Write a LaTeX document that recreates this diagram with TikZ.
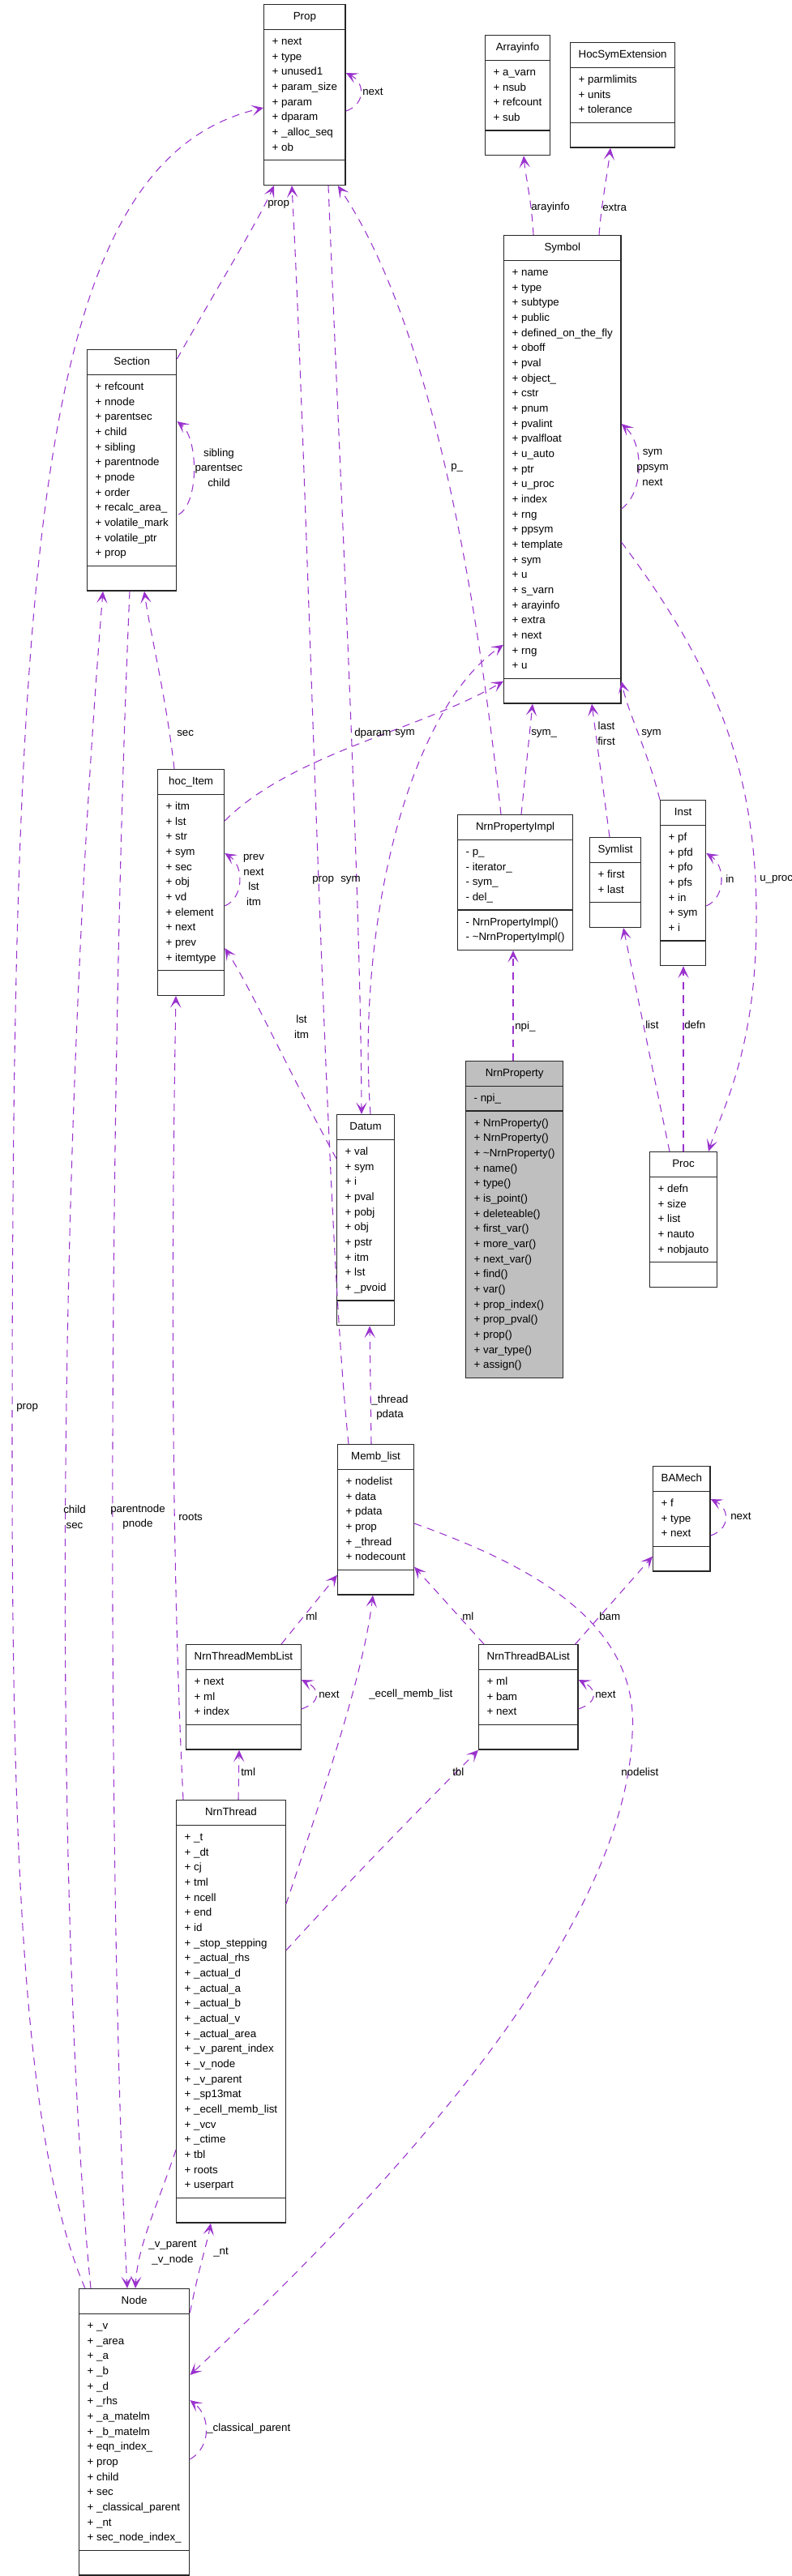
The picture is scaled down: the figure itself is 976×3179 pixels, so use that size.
\documentclass[tikz,border=0pt]{standalone}
\usepackage{fontspec}
\setmainfont{Liberation Sans}
\usetikzlibrary{shapes.multipart,arrows.meta,calc}

\definecolor{edgecol}{RGB}{154,50,205}

\tikzset{
  cls/.style={rectangle split, rectangle split parts=3, draw=black!85, line width=1pt, fill=white,
    anchor=north west, align=left, rectangle split part align={center,left,left},
    inner xsep=7.5pt, inner ysep=4pt, font=\fontsize{10}{14}\selectfont},
  focus/.style={cls, fill=black!25},
  use/.style={draw=edgecol, dash pattern=on 7pt off 5.5pt, line width=0.8pt,
    -{Stealth[length=11pt,width=10pt,inset=5.5pt]}},
  lbl/.style={font=\fontsize{10}{14}\selectfont, inner sep=0pt, align=center}
}

\begin{document}
\begin{tikzpicture}[x=0.75pt,y=-0.75pt]
\useasboundingbox (0,0) rectangle (976,3179);

% classes
\node[cls] (prop) at (325,5) {\strut Prop
  \nodepart{second}\strut + next\\+ type\\+ unused1\\+ param\_size\\+ param\\+ dparam\\+ \_alloc\_seq\\+ ob\strut
  \nodepart{third}\strut};
\node[cls] (ainfo) at (598,43) {\strut Arrayinfo
  \nodepart{second}\strut + a\_varn\\+ nsub\\+ refcount\\+ sub\strut
  \nodepart{third}\strut};
\node[cls] (hse) at (703,52) {\strut HocSymExtension
  \nodepart{second}\strut + parmlimits\\+ units\\+ tolerance\strut
  \nodepart{third}\strut};
\node[cls] (sym) at (621,290) {\strut Symbol
  \nodepart{second}\strut + name\\+ type\\+ subtype\\+ public\\+ defined\_on\_the\_fly\\+ oboff\\+ pval\\+ object\_\\+ cstr\\+ pnum\\+ pvalint\\+ pvalfloat\\+ u\_auto\\+ ptr\\+ u\_proc\\+ index\\+ rng\\+ ppsym\\+ template\\+ sym\\+ u\\+ s\_varn\\+ arayinfo\\+ extra\\+ next\\+ rng\\+ u\strut
  \nodepart{third}\strut};
\node[cls] (sec) at (107,431) {\strut Section
  \nodepart{second}\strut + refcount\\+ nnode\\+ parentsec\\+ child\\+ sibling\\+ parentnode\\+ pnode\\+ order\\+ recalc\_area\_\\+ volatile\_mark\\+ volatile\_ptr\\+ prop\strut
  \nodepart{third}\strut};
\node[cls] (item) at (194,949) {\strut hoc\_Item
  \nodepart{second}\strut + itm\\+ lst\\+ str\\+ sym\\+ sec\\+ obj\\+ vd\\+ element\\+ next\\+ prev\\+ itemtype\strut
  \nodepart{third}\strut};
\node[cls] (npimpl) at (564,1005) {\strut NrnPropertyImpl
  \nodepart{second}\strut - p\_\\- iterator\_\\- sym\_\\- del\_\strut
  \nodepart{third}\strut - NrnPropertyImpl()\\- \textasciitilde NrnPropertyImpl()\strut};
\node[cls] (slist) at (727,1033) {\strut Symlist
  \nodepart{second}\strut + first\\+ last\strut
  \nodepart{third}\strut};
\node[cls] (inst) at (814,987) {\strut Inst
  \nodepart{second}\strut + pf\\+ pfd\\+ pfo\\+ pfs\\+ in\\+ sym\\+ i\strut
  \nodepart{third}\strut};
\node[focus] (nprop) at (574,1309) {\strut NrnProperty
  \nodepart{second}\strut - npi\_\strut
  \nodepart{third}\strut + NrnProperty()\\+ NrnProperty()\\+ \textasciitilde NrnProperty()\\+ name()\\+ type()\\+ is\_point()\\+ deleteable()\\+ first\_var()\\+ more\_var()\\+ next\_var()\\+ find()\\+ var()\\+ prop\_index()\\+ prop\_pval()\\+ prop()\\+ var\_type()\\+ assign()\strut};
\node[cls] (datum) at (415,1375) {\strut Datum
  \nodepart{second}\strut + val\\+ sym\\+ i\\+ pval\\+ pobj\\+ obj\\+ pstr\\+ itm\\+ lst\\+ \_pvoid\strut
  \nodepart{third}\strut};
\node[cls] (proc) at (801,1421) {\strut Proc
  \nodepart{second}\strut + defn\\+ size\\+ list\\+ nauto\\+ nobjauto\strut
  \nodepart{third}\strut};
\node[cls] (mlist) at (416,1782) {\strut Memb\_list
  \nodepart{second}\strut + nodelist\\+ data\\+ pdata\\+ prop\\+ \_thread\\+ nodecount\strut
  \nodepart{third}\strut};
\node[cls] (bam) at (805,1809) {\strut BAMech
  \nodepart{second}\strut + f\\+ type\\+ next\strut
  \nodepart{third}\strut};
\node[cls] (tml) at (229,2029) {\strut NrnThreadMembList
  \nodepart{second}\strut + next\\+ ml\\+ index\strut
  \nodepart{third}\strut};
\node[cls] (tbl) at (590,2029) {\strut NrnThreadBAList
  \nodepart{second}\strut + ml\\+ bam\\+ next\strut
  \nodepart{third}\strut};
\node[cls] (nthr) at (217,2221) {\strut NrnThread
  \nodepart{second}\strut + \_t\\+ \_dt\\+ cj\\+ tml\\+ ncell\\+ end\\+ id\\+ \_stop\_stepping\\+ \_actual\_rhs\\+ \_actual\_d\\+ \_actual\_a\\+ \_actual\_b\\+ \_actual\_v\\+ \_actual\_area\\+ \_v\_parent\_index\\+ \_v\_node\\+ \_v\_parent\\+ \_sp13mat\\+ \_ecell\_memb\_list\\+ \_vcv\\+ \_ctime\\+ tbl\\+ roots\\+ userpart\strut
  \nodepart{third}\strut};
\node[cls] (node) at (97,2824) {\strut Node
  \nodepart{second}\strut + \_v\\+ \_area\\+ \_a\\+ \_b\\+ \_d\\+ \_rhs\\+ \_a\_matelm\\+ \_b\_matelm\\+ eqn\_index\_\\+ prop\\+ child\\+ sec\\+ \_classical\_parent\\+ \_nt\\+ sec\_node\_index\_\strut
  \nodepart{third}\strut};

% self loops
\draw[use] ($(prop.north east)+(0,132)$) .. controls +(24,-8) and +(24,12) .. ($(prop.north east)+(0,85)$);
\draw[use] ($(sec.north east)+(2,204)$) .. controls +(26,-15) and +(26,20) .. ($(sec.north east)+(0,89)$);
\draw[use] ($(sym.north east)+(0,338)$) .. controls +(28,-20) and +(28,25) .. ($(sym.north east)+(0,233)$);
\draw[use] ($(item.north east)+(0,169)$) .. controls +(24,-10) and +(24,15) .. ($(item.north east)+(0,104)$);
\draw[use] ($(inst.north east)+(0,131)$) .. controls +(24,-10) and +(24,15) .. ($(inst.north east)+(0,66)$);
\draw[use] ($(bam.north east)+(0,86)$) .. controls +(24,-8) and +(24,12) .. ($(bam.north east)+(0,41)$);
\draw[use] ($(tml.north east)+(0,80)$) .. controls +(24,-8) and +(24,12) .. ($(tml.north east)+(0,44)$);
\draw[use] ($(tbl.north east)+(0,80)$) .. controls +(24,-8) and +(24,12) .. ($(tbl.north east)+(0,44)$);
\draw[use] ($(node.north east)+(0,211)$) .. controls +(26,-15) and +(26,20) .. ($(node.north east)+(0,138)$);

% upper part
\draw[use] ($(sec.north east)+(0,12)$) .. controls (265,360) and (320,270) .. ($(prop.south west)+(13,0)$);
\draw[use] ($(node.north west)+(8,0)$) .. controls (30,2650) and (15,2300) .. (15,1800)
  .. controls (15,700) and (40,200) .. ($(prop.north west)+(0,128)$);
\draw[use] ($(sym.north west)+(37,0)$) .. controls (656,250) and (648,215) .. ($(ainfo.south west)+(48,0)$);
\draw[use] ($(sym.north west)+(118,0)$) .. controls (742,250) and (750,210) .. ($(hse.south west)+(50,0)$);
\draw[use] ($(sym.north east)+(0,379)$) .. controls (880,820) and (935,950) .. (933,1140)
  .. controls (932,1300) and (890,1370) .. ($(proc.north west)+(73,0)$);
\draw[use] ($(npimpl.north west)+(54,0)$) .. controls (595,800) and (545,420) .. ($(prop.south east)+(-10,0)$);
\draw[use] ($(npimpl.north west)+(79,0)$) -- ($(sym.south west)+(36,0)$);
\draw[use] ($(slist.north west)+(25,0)$) -- ($(sym.south west)+(109,0)$);
\draw[use] (inst.north west) .. controls (800,930) and (775,880) .. ($(sym.south east)+(0,-28)$);
\draw[use] ($(item.north west)+(21,0)$) .. controls (205,860) and (185,780) .. ($(sec.south west)+(71,0)$);
\draw[use] ($(item.north east)+(0,64)$) .. controls (360,930) and (520,900) .. ($(sym.south west)+(0,-28)$);
\draw[use] ($(datum.north west)+(42,0)$) .. controls (440,1150) and (500,880) .. ($(sym.south west)+(0,-73)$);
\draw[use] ($(prop.south west)+(80,0)$) .. controls (420,600) and (445,1100) .. ($(datum.north west)+(31,0)$);
\draw[use] ($(mlist.north west)+(14,0)$) .. controls (400,1500) and (380,600) .. ($(prop.south west)+(35,0)$);
\draw[use] ($(datum.north west)+(0,55)$) .. controls (360,1330) and (310,1220) .. ($(item.north east)+(0,221)$);

% middle part
\draw[use] ($(nprop.north west)+(59,0)$) -- ($(npimpl.south west)+(69,0)$);
\draw[use] ($(proc.north west)+(25,0)$) -- ($(slist.south west)+(42,0)$);
\draw[use] ($(proc.north west)+(42,0)$) -- ($(inst.south west)+(29,0)$);
\draw[use] ($(mlist.north west)+(42,0)$) -- ($(datum.south west)+(41,0)$);
\draw[use] ($(tml.north west)+(118,0)$) -- ($(mlist.south west)+(0,-25)$);
\draw[use] ($(tbl.north west)+(7,0)$) -- ($(mlist.south east)+(0,-35)$);
\draw[use] ($(tbl.north east)+(-4,0)$) -- ($(bam.south west)+(0,-19)$);

% lower part
\draw[use] ($(nthr.north west)+(77,0)$) -- ($(tml.south west)+(66,0)$);
\draw[use] ($(nthr.north east)+(0,186)$) .. controls (450,2300) and (540,2210) .. (tbl.south west);
\draw[use] ($(nthr.north east)+(0,129)$) .. controls (420,2150) and (450,2050) .. ($(mlist.south west)+(44,0)$);
\draw[use] ($(mlist.north east)+(0,98)$) .. controls (650,1930) and (790,2000) .. (780,2140)
  .. controls (770,2400) and (450,2730) .. ($(node.north east)+(0,107)$);
\draw[use] ($(nthr.north west)+(9,0)$) .. controls (210,1900) and (212,1500) .. ($(item.south west)+(23,0)$);
\draw[use] ($(sec.south west)+(53,0)$) .. controls (135,1300) and (130,2300) .. ($(node.north west)+(60,0)$);
\draw[use] ($(node.north west)+(15,0)$) .. controls (70,2400) and (65,1500) .. ($(sec.south west)+(20,0)$);
\draw[use] ($(nthr.north west)+(0,432)$) .. controls (195,2720) and (170,2770) .. ($(node.north west)+(70,0)$);
\draw[use] ($(node.north east)+(0,30)$) .. controls (245,2800) and (255,2770) .. ($(nthr.south west)+(43,0)$);

% labels
\node[lbl, anchor=west] (l-pnext) at (447,113) {next};
\node[lbl, anchor=west] (l-sprop) at (330,252) {prop};
\node[lbl, anchor=west] (l-ainfo) at (655,256) {arayinfo};
\node[lbl, anchor=west] (l-extra) at (743,256) {extra};
\node[lbl] (l-secself) at (270,577) {sibling\\parentsec\\child};
\node[lbl] (l-symself) at (805,577) {sym\\ppsym\\next};
\node[lbl, anchor=west] (l-p) at (556,577) {p\_};
\node[lbl, anchor=west] (l-sym1) at (655,905) {sym\_};
\node[lbl, anchor=west] (l-lf) at (737,905) {last\\first};
\node[lbl, anchor=west] (l-isym) at (791,905) {sym};
\node[lbl, anchor=west] (l-sec) at (218,905) {sec};
\node[lbl, anchor=west] (l-hsym) at (487,905) {sym};
\node[lbl, anchor=west] (l-dparam) at (437,905) {dparam};
\node[lbl, anchor=west] (l-in) at (895,1085) {in};
\node[lbl, anchor=west] (l-uproc) at (937,1085) {u\_proc};
\node[lbl] (l-itemself) at (313,1086) {prev\\next\\lst\\itm};
\node[lbl, anchor=east] (l-dsym) at (445,1086) {sym};
\node[lbl, anchor=west] (l-mprop) at (385,1086) {prop};
\node[lbl] (l-lstitm) at (372,1267) {lst\\itm};
\node[lbl, anchor=west] (l-npi) at (635,1267) {npi\_};
\node[lbl, anchor=west] (l-list) at (796,1265) {list};
\node[lbl, anchor=west] (l-defn) at (844,1265) {defn};
\node[lbl] (l-thread) at (481,1737) {\_thread\\pdata};
\node[lbl, anchor=west] (l-nprop) at (20,1737) {prop};
\node[lbl] (l-childsec) at (92,1872) {child\\sec};
\node[lbl] (l-pnode) at (170,1872) {parentnode\\pnode};
\node[lbl, anchor=west] (l-roots) at (220,1872) {roots};
\node[lbl, anchor=west] (l-bnext) at (901,1871) {next};
\node[lbl, anchor=west] (l-ml1) at (377,1995) {ml};
\node[lbl, anchor=west] (l-ml2) at (570,1995) {ml};
\node[lbl, anchor=west] (l-bam) at (739,1995) {bam};
\node[lbl, anchor=west] (l-tmlnext) at (393,2091) {next};
\node[lbl, anchor=west] (l-tblnext) at (734,2091) {next};
\node[lbl, anchor=west] (l-ecell) at (455,2091) {\_ecell\_memb\_list};
\node[lbl, anchor=west] (l-tml) at (297,2187) {tml};
\node[lbl, anchor=west] (l-tbl) at (558,2187) {tbl};
\node[lbl, anchor=west] (l-nodelist) at (766,2187) {nodelist};
\node[lbl] (l-vparent) at (213,2780) {\_v\_parent\\\_v\_node};
\node[lbl, anchor=west] (l-nt) at (263,2779) {\_nt};
\node[lbl, anchor=west] (l-cpar) at (255,2997) {\_classical\_parent};

\end{tikzpicture}
\end{document}
